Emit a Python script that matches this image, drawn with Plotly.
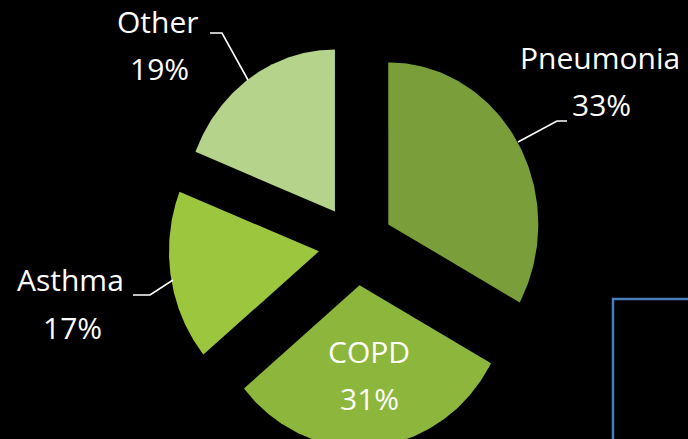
import numpy as np
import plotly.graph_objects as go

# ---- data ----
labels = ["Pneumonia", "COPD", "Asthma", "Other"]
values = [33, 31, 17, 19]
colors = ["#7A9E3A", "#8DB63C", "#9DC63F", "#B5D38A"]
pull = 0.25  # exploded distance, in radii

W, H = 688, 439
# pie centre in pixels and horizontal / vertical radius in pixels
CX, CY, RX, RY = 356, 245, 150, 162

def px(x):
    return x / W

def py(y):
    return 1 - y / H

fig = go.Figure()

total = float(sum(values))
start = 0.0
for lab, val, col in zip(labels, values, colors):
    frac = val / total
    a0 = 2 * np.pi * start
    a1 = 2 * np.pi * (start + frac)
    mid = 0.5 * (a0 + a1)
    vx, vy = pull * np.sin(mid), pull * np.cos(mid)
    th = np.linspace(a0, a1, 120)
    xs = np.concatenate([[vx], vx + np.sin(th), [vx]])
    ys = np.concatenate([[vy], vy + np.cos(th), [vy]])
    fig.add_trace(go.Scatter(
        x=xs, y=ys, mode="lines", fill="toself", fillcolor=col,
        line=dict(width=0, color=col), name=lab,
        hoverinfo="text", hoveron="fills", text=f"{lab}: {val}%",
        showlegend=False,
    ))
    start += frac

# label positions (pixel centres of each text line)
label_pos = {
    "Pneumonia": ((600, 58), (601, 105)),
    "COPD": ((369, 351), (370, 398)),
    "Asthma": ((70, 279), (72, 327)),
    "Other": ((158, 22), (159, 69)),
}
font = dict(family="Open Sans, Lato, sans-serif", size=30, color="white")
annotations = []
for lab, val in zip(labels, values):
    (x1, y1), (x2, y2) = label_pos[lab]
    annotations.append(dict(x=px(x1), y=py(y1), xref="paper", yref="paper", text=lab,
                            showarrow=False, font=font, xanchor="center", yanchor="middle"))
    annotations.append(dict(x=px(x2), y=py(y2), xref="paper", yref="paper", text=f"{val}%",
                            showarrow=False, font=font, xanchor="center", yanchor="middle"))

def path(points):
    return "M " + " L ".join(f"{px(x):.5f},{py(y):.5f}" for x, y in points)

leaders = [
    [(210, 33), (222, 33), (248, 80)],
    [(518, 142), (557, 121), (567, 121)],
    [(133, 295), (150, 295), (173, 280)],
]
shapes = [dict(type="path", xref="paper", yref="paper", path=path(p),
               line=dict(color="white", width=1.6)) for p in leaders]
shapes.append(dict(type="rect", xref="paper", yref="paper",
                   x0=px(613), y0=py(299), x1=px(720), y1=py(470),
                   line=dict(color="#4A7EBB", width=2.5), fillcolor="rgba(0,0,0,0)"))

fig.update_layout(
    width=W, height=H,
    margin=dict(l=0, r=0, t=0, b=0),
    paper_bgcolor="black",
    plot_bgcolor="black",
    xaxis=dict(visible=False, range=[-CX / RX, (W - CX) / RX], fixedrange=True),
    yaxis=dict(visible=False, range=[-(H - CY) / RY, CY / RY], fixedrange=True),
    annotations=annotations,
    shapes=shapes,
)

fig.write_html(
    "out.html",
    config={"displayModeBar": False},
    post_script="document.body.style.margin='0';document.body.style.background='black';",
)
